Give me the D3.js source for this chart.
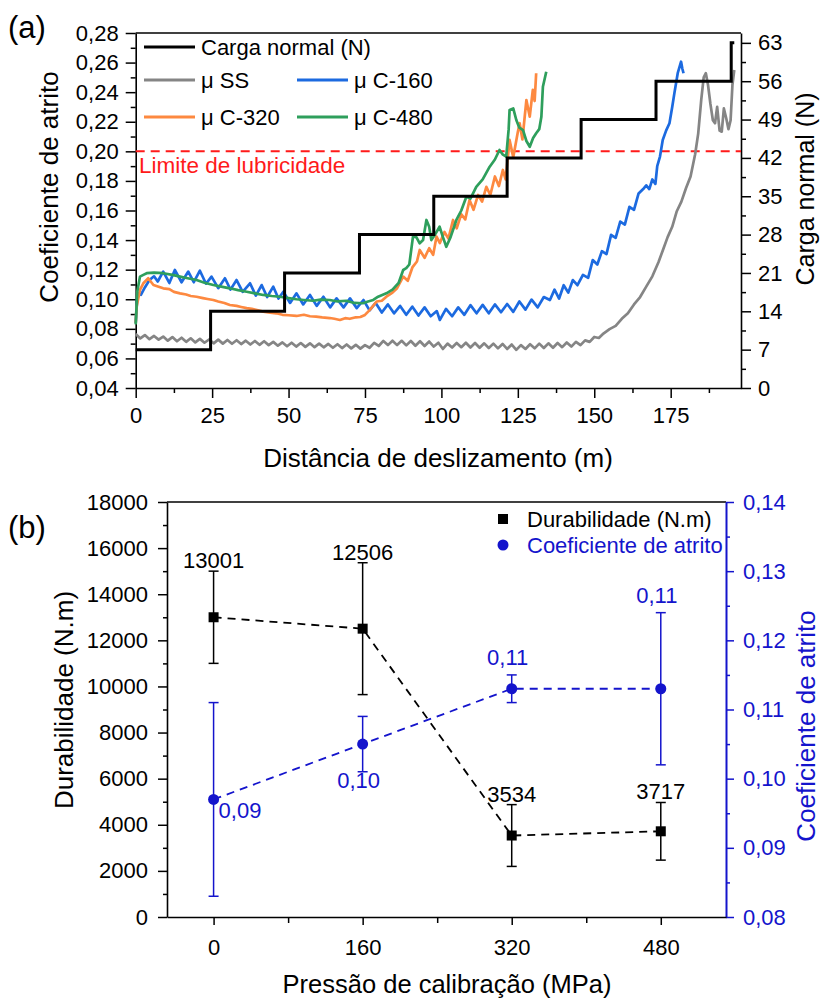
<!DOCTYPE html>
<html><head><meta charset="utf-8">
<script src="https://cdn.jsdelivr.net/npm/d3@7"></script>
<style>body{margin:0;background:#fff} svg text{font-family:"Liberation Sans",Arial,sans-serif}</style>
</head><body><svg id="c" width="821" height="1000"></svg>
<script>
// ---------- Panel (a) data ----------
const distTicksA = [0,25,50,75,100,125,150,175];
const cofTicksA = [0.04,0.06,0.08,0.10,0.12,0.14,0.16,0.18,0.20,0.22,0.24,0.26,0.28];
const loadTicks = [0,7,14,21,28,35,42,49,56,63];
const loadStepStart = [0,24.5,48.7,73.2,97.5,121.5,145.7,170.2,194.8];
const loadLevels = [7,14,21,28,35,42,49,56,63];
const loadEnd = 195.8;
const lubricityLimit = 0.20;

const seriesSS = [[0,0.0765],[1.5,0.0735],[3,0.0758],[4.5,0.073],[6,0.0752],[7.5,0.0727],[9,0.0748],[10.5,0.072],[12,0.0744],[13.5,0.0716],[15,0.074],[16.5,0.0712],[18,0.0736],[19.5,0.0708],[21,0.0732],[22.5,0.0706],[24,0.0728],[25.5,0.0702],[27,0.0727],[28.5,0.07],[30,0.0725],[31.5,0.0699],[33,0.0723],[34.5,0.0697],[36,0.072],[37.5,0.0694],[39,0.0718],[40.5,0.0692],[42,0.0716],[43.5,0.069],[45,0.0712],[46.5,0.0686],[48,0.0708],[49.5,0.0682],[51,0.0706],[52.5,0.068],[54,0.0704],[55.5,0.0678],[57,0.0702],[58.5,0.0676],[60,0.07],[61.5,0.0675],[63,0.0698],[64.5,0.0672],[66,0.0696],[67.5,0.067],[69,0.0694],[70.5,0.0668],[72,0.0692],[73.5,0.0666],[75,0.069],[76.5,0.0672],[78,0.0705],[79.5,0.0684],[81,0.0718],[82.5,0.069],[84,0.072],[85.5,0.069],[87,0.0719],[88.5,0.0688],[90,0.0718],[91.5,0.0686],[93,0.0716],[94.5,0.0684],[96,0.0714],[97.5,0.068],[99,0.0706],[100.5,0.0664],[102,0.07],[103.5,0.0674],[105,0.0704],[106.5,0.0676],[108,0.0706],[109.5,0.0674],[111,0.0704],[112.5,0.0672],[114,0.0702],[115.5,0.067],[117,0.07],[118.5,0.0668],[120,0.0698],[121.5,0.0664],[123,0.0694],[124.5,0.0658],[126,0.069],[127.5,0.0664],[129,0.0696],[130.5,0.0668],[132,0.07],[133.5,0.067],[135,0.0702],[136.5,0.0672],[138,0.0704],[139.5,0.0676],[141,0.0708],[142.5,0.068],[144,0.0712],[145.5,0.069],[147,0.0722],[148.5,0.0712],[150,0.0745],[151.5,0.0738],[153,0.0768],[155,0.0798],[157,0.082],[159,0.0868],[161,0.0905],[163,0.0965],[165,0.1015],[167,0.1085],[169,0.1155],[171,0.125],[172.5,0.1335],[174,0.142],[175.5,0.149],[177,0.1595],[178.5,0.166],[180,0.175],[181.5,0.183],[183,0.198],[184,0.212],[185,0.235],[185.8,0.25],[186.5,0.2528],[187.2,0.245],[188,0.232],[188.8,0.221],[189.5,0.219],[190.2,0.23],[191,0.214],[191.7,0.2133],[192.4,0.229],[193.2,0.222],[193.9,0.215],[194.6,0.221],[195.2,0.245],[195.8,0.255]];

const seriesC160 = [[0,0.084],[0.6,0.104],[1.7,0.103],[3,0.108],[4.5,0.113],[6,0.1155],[7.2,0.112],[9,0.1187],[11,0.111],[12.8,0.1198],[15,0.1115],[17.2,0.1187],[19,0.1115],[21,0.1193],[23,0.1105],[24.8,0.1153],[27,0.1075],[29.2,0.1142],[31,0.1065],[33,0.113],[35,0.105],[37.4,0.1108],[39.3,0.1025],[41.2,0.1096],[43,0.1015],[45,0.1085],[46.7,0.1005],[48.3,0.1051],[50.5,0.0975],[52.6,0.104],[54.8,0.0965],[57,0.1029],[59.2,0.0955],[61.4,0.1017],[63.6,0.0945],[65.7,0.1006],[68,0.0945],[70.1,0.1006],[72.3,0.094],[74.5,0.0995],[76.5,0.0925],[78.5,0.0975],[80.5,0.091],[82.5,0.0965],[84.5,0.0905],[86.5,0.0955],[88.5,0.0895],[90.5,0.095],[92.5,0.089],[94.5,0.0945],[96.5,0.0885],[98.5,0.092],[99.5,0.086],[101.5,0.0935],[103.5,0.0885],[105.5,0.0945],[107.5,0.0895],[109.5,0.096],[111.5,0.0905],[113.5,0.0962],[115.5,0.0905],[117.5,0.0965],[119.5,0.0912],[121.5,0.0968],[123.5,0.0915],[125.5,0.0985],[127.5,0.093],[129.5,0.0998],[131.5,0.0945],[133.5,0.1015],[135.5,0.0995],[137,0.1065],[138.5,0.1005],[140,0.1095],[141.5,0.1045],[143,0.113],[144.5,0.1095],[146.3,0.1165],[148,0.1145],[149.5,0.1265],[151,0.1235],[152.5,0.1325],[154,0.1305],[155.5,0.1435],[157,0.1415],[158.5,0.1525],[160,0.1505],[161.5,0.1625],[163,0.1605],[164.5,0.1715],[166,0.1745],[167,0.177],[168,0.1745],[169,0.181],[170,0.178],[170.6,0.19],[171.5,0.1965],[172.4,0.2077],[173.5,0.214],[174.6,0.219],[175.5,0.23],[176.2,0.2392],[177.3,0.2528],[178.4,0.2606],[178.8,0.256],[179.2,0.2528]];

const seriesC320 = [[0,0.084],[0.3,0.095],[1.4,0.1063],[2.5,0.1108],[4.1,0.1142],[5.8,0.1096],[7.5,0.1085],[9,0.1074],[11,0.1068],[12.5,0.105],[14.5,0.104],[16.5,0.1032],[18,0.1022],[19.9,0.1017],[22,0.1008],[23.5,0.1002],[25.4,0.0995],[27,0.0985],[29,0.0975],[30.8,0.0961],[33,0.0955],[34.5,0.0948],[36.3,0.094],[38,0.0935],[40,0.0925],[41.7,0.0916],[44,0.091],[46,0.0905],[48,0.0895],[50,0.0892],[52.6,0.0887],[55,0.0895],[57,0.0885],[59,0.0882],[61,0.0877],[63.5,0.0873],[65,0.0868],[66.8,0.086],[68.5,0.0872],[70,0.0868],[72,0.0878],[73.5,0.088],[75,0.0894],[76.6,0.0928],[78.8,0.0985],[80.5,0.099],[82,0.1017],[84,0.1045],[85.5,0.1075],[87.5,0.1153],[89,0.1125],[90.5,0.1215],[92,0.1255],[92.9,0.1333],[94.5,0.128],[96,0.1345],[97.3,0.13],[98.4,0.1423],[99.5,0.138],[101,0.1455],[102.3,0.141],[103.8,0.1536],[105,0.148],[106.5,0.1575],[107.8,0.154],[109.2,0.1671],[110.5,0.1605],[112,0.1705],[113.3,0.166],[114.7,0.176],[116,0.1705],[117.5,0.183],[118.8,0.1765],[120.1,0.1874],[121,0.181],[122.3,0.2077],[123.5,0.196],[125,0.213],[125.6,0.219],[126.5,0.208],[127.8,0.2347],[128.9,0.2234],[129.9,0.2415],[130.5,0.234],[131,0.2528]];

const seriesC480 = [[0,0.083],[0.5,0.105],[1.4,0.1153],[2.5,0.1165],[3.6,0.1176],[6,0.118],[9,0.1176],[12,0.1165],[14.5,0.1153],[17,0.1142],[19.9,0.113],[22.5,0.1112],[25.4,0.1096],[28,0.1085],[30.8,0.1074],[33.5,0.1062],[36.3,0.1051],[39,0.104],[41.7,0.1029],[44.5,0.1022],[47.2,0.1017],[50,0.1008],[52.6,0.1],[55,0.0995],[58,0.099],[60.5,0.0998],[63.5,0.0995],[66,0.0985],[68.9,0.099],[71.5,0.0975],[74.3,0.0973],[76,0.0985],[77.7,0.0995],[79.3,0.1017],[82,0.104],[84,0.1065],[86,0.111],[87.5,0.1198],[88.5,0.121],[89.5,0.1235],[90.7,0.1423],[91.8,0.142],[92.9,0.1378],[94,0.14],[95.1,0.1536],[96,0.149],[96.7,0.14],[98,0.144],[99.4,0.149],[100.5,0.142],[101.6,0.1355],[103,0.142],[104.9,0.1536],[106.5,0.16],[108.2,0.1694],[109.5,0.168],[111.4,0.176],[113.5,0.181],[115.8,0.1896],[117.5,0.1945],[119,0.2009],[120,0.198],[121.2,0.1964],[122,0.215],[122.3,0.228],[123.5,0.229],[124.5,0.2212],[125.5,0.216],[126.7,0.2144],[127.8,0.207],[128.9,0.2031],[130,0.209],[131,0.2122],[132,0.215],[132.7,0.2234],[133.2,0.2437],[134.3,0.2538]];

const seriesNamesA = ["Carga normal (N)","\u03bc SS","\u03bc C-160","\u03bc C-320","\u03bc C-480"];

// ---------- Panel (b) data ----------
const pressures = [0,160,320,480];
const pressureMinor = [80,240,400];
const durability = [13001,12506,3534,3717];
const durabilityErr = [2000,2860,1340,1250];
const cofMean = [0.097,0.105,0.113,0.113];
const cofErr = [0.014,0.004,0.002,0.011];
const cofLabels = ["0,09","0,10","0,11","0,11"];
const durTicks = [0,2000,4000,6000,8000,10000,12000,14000,16000,18000];
const cofTicksB = [0.08,0.09,0.10,0.11,0.12,0.13,0.14];

// ---------- drawing ----------
const svg = d3.select("#c");
const FONT = '"Liberation Sans",Arial,sans-serif';
const fmt2 = d => d.toFixed(2).replace(".", ",");
const BLUE = "#1414cc";
const colors = {load:"#000", ss:"#858585", c160:"#1c6ae0", c320:"#fd8940", c480:"#2e9f5c"};

function styleAxis(g, color, size){
  g.attr("font-family", FONT).attr("font-size", size);
  g.selectAll("text").attr("fill", color);
  g.selectAll("line").attr("stroke", color).attr("stroke-width", 1.5);
  g.selectAll(".domain").attr("stroke", color).attr("stroke-width", 1.6);
}
function minorVals(major, step){ const r=[]; for(let i=0;i<major.length-1;i++) r.push(major[i]+step); return r; }

// ===== Panel (a) =====
const xA = d3.scaleLinear().domain([0,198]).range([135.7,741]);
const yA = d3.scaleLinear().domain([0.04,0.28]).range([388,33]);
const yR = d3.scaleLinear().domain([0,64.8]).range([388,33]);

svg.append("line").attr("x1",xA.range()[0]).attr("x2",xA.range()[1]).attr("y1",33).attr("y2",33).attr("stroke","#000").attr("stroke-width",1.6);

const axL = svg.append("g").attr("transform",`translate(${xA.range()[0]},0)`)
  .call(d3.axisLeft(yA).tickValues(cofTicksA).tickSize(10).tickPadding(7).tickFormat(fmt2).tickSizeOuter(0));
styleAxis(axL,"#000",22);
const axLm = svg.append("g").attr("transform",`translate(${xA.range()[0]},0)`)
  .call(d3.axisLeft(yA).tickValues(minorVals(cofTicksA,0.01)).tickSize(5).tickFormat(""));
axLm.select(".domain").remove(); styleAxis(axLm,"#000",22);

const axR = svg.append("g").attr("transform",`translate(${xA.range()[1]},0)`)
  .call(d3.axisRight(yR).tickValues(loadTicks).tickSize(10).tickPadding(7).tickSizeOuter(0));
styleAxis(axR,"#000",22);
const axRm = svg.append("g").attr("transform",`translate(${xA.range()[1]},0)`)
  .call(d3.axisRight(yR).tickValues(minorVals(loadTicks.concat([70]),3.5).filter(v=>v<64.8)).tickSize(5).tickFormat(""));
axRm.select(".domain").remove(); styleAxis(axRm,"#000",22);

const axB = svg.append("g").attr("transform","translate(0,388)")
  .call(d3.axisBottom(xA).tickValues(distTicksA).tickSize(10).tickPadding(9).tickSizeOuter(0));
styleAxis(axB,"#000",22);
const axBm = svg.append("g").attr("transform","translate(0,388)")
  .call(d3.axisBottom(xA).tickValues(minorVals(distTicksA.concat([200]),12.5)).tickSize(5).tickFormat(""));
axBm.select(".domain").remove(); styleAxis(axBm,"#000",22);

svg.append("text").attr("x",438).attr("y",467).attr("text-anchor","middle").attr("font-size",26).text("Dist\u00e2ncia de deslizamento (m)");
svg.append("text").attr("transform","translate(58,187) rotate(-90)").attr("text-anchor","middle").attr("font-size",26).text("Coeficiente de atrito");
svg.append("text").attr("transform","translate(814,189) rotate(-90)").attr("text-anchor","middle").attr("font-size",25).text("Carga normal (N)");
svg.append("text").attr("x",8).attr("y",38).attr("font-size",31).text("(a)");

svg.append("line").attr("x1",xA.range()[0]).attr("x2",xA.range()[1]).attr("y1",yA(lubricityLimit)).attr("y2",yA(lubricityLimit))
  .attr("stroke","#ff1a1a").attr("stroke-width",2).attr("stroke-dasharray","9,6");
svg.append("text").attr("x",139).attr("y",yA(lubricityLimit)+22).attr("font-size",22.5).attr("fill","#ff1a1a").text("Limite de lubricidade");

const lineA = d3.line().x(d=>xA(d[0])).y(d=>yA(d[1]));
[[seriesSS,colors.ss],[seriesC160,colors.c160],[seriesC320,colors.c320],[seriesC480,colors.c480]].forEach(([s,c])=>{
  svg.append("path").datum(s).attr("d",lineA).attr("fill","none").attr("stroke",c).attr("stroke-width",2.7).attr("stroke-linejoin","round");
});
const loadPts = loadStepStart.map((d,i)=>[d,loadLevels[i]]).concat([[loadEnd,loadLevels[loadLevels.length-1]]]);
svg.append("path").datum(loadPts).attr("d",d3.line().curve(d3.curveStepAfter).x(d=>xA(d[0])).y(d=>yR(d[1])))
  .attr("fill","none").attr("stroke","#000").attr("stroke-width",3);

const legA = [
  {name:seriesNamesA[0], c:colors.load, x:144, y:47},
  {name:seriesNamesA[1], c:colors.ss, x:144, y:80},
  {name:seriesNamesA[2], c:colors.c160, x:297, y:80},
  {name:seriesNamesA[3], c:colors.c320, x:144, y:117},
  {name:seriesNamesA[4], c:colors.c480, x:297, y:117}
];
legA.forEach(l=>{
  svg.append("line").attr("x1",l.x).attr("x2",l.x+51).attr("y1",l.y).attr("y2",l.y).attr("stroke",l.c).attr("stroke-width",3);
  svg.append("text").attr("x",l.x+57).attr("y",l.y+8).attr("font-size",22).text(l.name);
});

// ===== Panel (b) =====
const xB = d3.scaleLinear().domain([-50,550]).range([167,726]);
const yB = d3.scaleLinear().domain([0,18000]).range([917,502]);
const yB2 = d3.scaleLinear().domain([0.08,0.14]).range([917,502]);

svg.append("line").attr("x1",167).attr("x2",726).attr("y1",502).attr("y2",502).attr("stroke","#000").attr("stroke-width",1.6);

const bL = svg.append("g").attr("transform","translate(167,0)")
  .call(d3.axisLeft(yB).tickValues(durTicks).tickSize(9).tickPadding(10).tickFormat(d3.format("d")).tickSizeOuter(0));
styleAxis(bL,"#000",22);
const bLm = svg.append("g").attr("transform","translate(167,0)")
  .call(d3.axisLeft(yB).tickValues(minorVals(durTicks,1000)).tickSize(4).tickFormat(""));
bLm.select(".domain").remove(); styleAxis(bLm,"#000",22);

const bR = svg.append("g").attr("transform","translate(726,0)")
  .call(d3.axisRight(yB2).tickValues(cofTicksB).tickSize(8).tickPadding(9).tickFormat(fmt2).tickSizeOuter(0));
styleAxis(bR,BLUE,22);
bR.select(".domain").attr("stroke-width",2);
const bRm = svg.append("g").attr("transform","translate(726,0)")
  .call(d3.axisRight(yB2).tickValues(minorVals(cofTicksB,0.005)).tickSize(4).tickFormat(""));
bRm.select(".domain").remove(); styleAxis(bRm,BLUE,22);

const bB = svg.append("g").attr("transform","translate(0,917)")
  .call(d3.axisBottom(xB).tickValues(pressures).tickSize(8).tickPadding(14).tickSizeOuter(0));
styleAxis(bB,"#000",22);
const bBm = svg.append("g").attr("transform","translate(0,917)")
  .call(d3.axisBottom(xB).tickValues(pressureMinor).tickSize(6).tickFormat(""));
bBm.select(".domain").remove(); styleAxis(bBm,"#000",22);

svg.append("text").attr("x",447).attr("y",993).attr("text-anchor","middle").attr("font-size",25.5).text("Press\u00e3o de calibra\u00e7\u00e3o (MPa)");
svg.append("text").attr("transform","translate(73,700) rotate(-90)").attr("text-anchor","middle").attr("font-size",26).text("Durabilidade (N.m)");
svg.append("text").attr("transform","translate(815,726) rotate(-90)").attr("text-anchor","middle").attr("font-size",26).attr("fill",BLUE).text("Coeficiente de atrito");
svg.append("text").attr("x",8).attr("y",538).attr("font-size",31).text("(b)");

svg.append("path").datum(pressures.map((p,i)=>[p,durability[i]]))
  .attr("d",d3.line().x(d=>xB(d[0])).y(d=>yB(d[1]))).attr("fill","none").attr("stroke","#000").attr("stroke-width",1.8).attr("stroke-dasharray","8,6");
svg.append("path").datum(pressures.map((p,i)=>[p,cofMean[i]]))
  .attr("d",d3.line().x(d=>xB(d[0])).y(d=>yB2(d[1]))).attr("fill","none").attr("stroke",BLUE).attr("stroke-width",1.8).attr("stroke-dasharray","8,6");

function errBar(x, y1, y2, color){
  svg.append("line").attr("x1",x).attr("x2",x).attr("y1",y1).attr("y2",y2).attr("stroke",color).attr("stroke-width",1.5);
  [y1,y2].forEach(y=>svg.append("line").attr("x1",x-5).attr("x2",x+5).attr("y1",y).attr("y2",y).attr("stroke",color).attr("stroke-width",1.5));
}
pressures.forEach((p,i)=>{
  errBar(xB(p), yB(durability[i]+durabilityErr[i]), yB(durability[i]-durabilityErr[i]), "#000");
  errBar(xB(p), yB2(cofMean[i]+cofErr[i]), yB2(cofMean[i]-cofErr[i]), BLUE);
});
pressures.forEach((p,i)=>{
  svg.append("rect").attr("x",xB(p)-5).attr("y",yB(durability[i])-5).attr("width",10).attr("height",10).attr("fill","#000");
  svg.append("circle").attr("cx",xB(p)).attr("cy",yB2(cofMean[i])).attr("r",5.5).attr("fill",BLUE);
  svg.append("text").attr("x",xB(p)).attr("y",yB(durability[i]+durabilityErr[i])-3).attr("text-anchor","middle").attr("font-size",22).text(String(durability[i]));
});
const cofPlace = ["right","below","above","above"];
pressures.forEach((p,i)=>{
  const t = svg.append("text").attr("font-size",22).attr("fill",BLUE).text(cofLabels[i]);
  if(cofPlace[i]==="right") t.attr("x",xB(p)+5).attr("y",yB2(cofMean[i])+19);
  else if(cofPlace[i]==="below") t.attr("x",xB(p)-4).attr("y",yB2(cofMean[i]-cofErr[i])+16).attr("text-anchor","middle");
  else t.attr("x",xB(p)-4).attr("y",yB2(cofMean[i]+cofErr[i])-10).attr("text-anchor","middle");
});

svg.append("rect").attr("x",498).attr("y",514).attr("width",10).attr("height",10).attr("fill","#000");
svg.append("text").attr("x",527).attr("y",527).attr("font-size",22).text("Durabilidade (N.m)");
svg.append("circle").attr("cx",503).attr("cy",545).attr("r",5.5).attr("fill",BLUE);
svg.append("text").attr("x",527).attr("y",553).attr("font-size",22).attr("fill",BLUE).text("Coeficiente de atrito");
</script></body></html>
